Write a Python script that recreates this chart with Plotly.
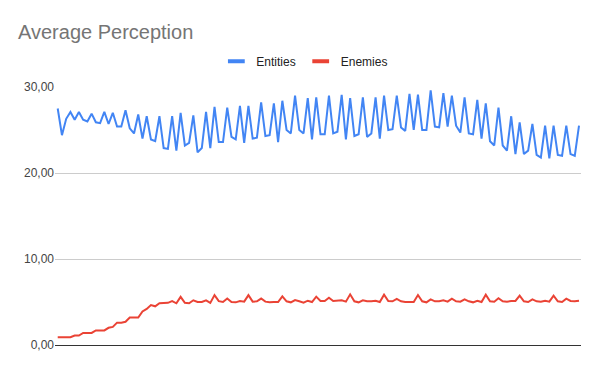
import plotly.graph_objects as go

entities = [
    27.5, 24.4, 26.3, 27.1, 26.2, 27.1, 26.2, 26.0, 26.9, 25.9,
    25.8, 27.1, 25.7, 27.0, 25.4, 25.4, 27.3, 25.2, 24.6, 26.8,
    24.0, 26.6, 23.9, 23.7, 26.6, 22.9, 22.8, 26.6, 22.6, 27.0,
    23.2, 23.5, 26.7, 22.4, 22.9, 27.1, 22.9, 27.7, 23.6, 23.6,
    27.6, 24.2, 23.9, 27.8, 23.5, 27.8, 24.0, 24.1, 28.2, 24.3,
    24.4, 28.1, 23.6, 28.4, 25.0, 24.6, 29.0, 25.0, 24.6, 28.7,
    23.9, 28.8, 24.5, 24.5, 29.0, 24.6, 24.8, 29.1, 23.9, 28.7,
    24.3, 24.5, 28.8, 24.2, 24.6, 28.8, 24.0, 29.0, 25.0, 25.1,
    29.0, 25.3, 24.9, 29.2, 25.0, 29.1, 25.0, 25.0, 29.6, 25.4,
    25.3, 29.3, 25.4, 29.0, 25.5, 24.7, 28.8, 24.6, 24.5, 28.5,
    24.0, 28.1, 23.7, 23.2, 27.6, 23.2, 22.6, 26.6, 22.2, 25.9,
    22.2, 22.6, 25.7, 22.1, 21.8, 25.5, 21.7, 25.5, 22.1, 22.0,
    25.5, 22.2, 22.0, 25.5,
]

enemies = [
    0.90, 0.93, 0.90, 0.90, 1.10, 1.10, 1.40, 1.40, 1.40, 1.70,
    1.70, 1.70, 2.00, 2.10, 2.60, 2.60, 2.70, 3.20, 3.20, 3.20,
    3.90, 4.20, 4.65, 4.50, 4.85, 4.90, 4.90, 5.10, 4.85, 5.60,
    4.90, 4.85, 5.20, 5.00, 5.00, 5.20, 4.90, 5.80, 5.10, 5.00,
    5.40, 5.00, 4.96, 5.12, 5.04, 5.80, 5.04, 5.08, 5.40, 5.04,
    4.96, 5.00, 5.00, 5.66, 5.08, 4.96, 5.23, 5.08, 4.92, 5.15,
    5.00, 5.62, 5.12, 5.12, 5.50, 5.12, 5.12, 5.19, 5.04, 5.89,
    5.08, 4.96, 5.19, 5.08, 5.08, 5.15, 5.00, 5.85, 5.12, 5.08,
    5.35, 5.08, 5.00, 5.00, 5.00, 5.81, 5.08, 4.96, 5.31, 5.08,
    5.08, 5.19, 5.04, 5.39, 5.08, 5.04, 5.31, 5.08, 4.96, 5.15,
    5.00, 5.85, 5.08, 5.04, 5.43, 5.08, 5.04, 5.12, 5.12, 5.74,
    5.08, 5.00, 5.31, 5.08, 5.04, 5.15, 5.04, 5.74, 5.08, 5.00,
    5.39, 5.12, 5.08, 5.15,
]

x = list(range(len(entities)))
series_names = ["Entities", "Enemies"]
colors = ["#4285F4", "#EA4335"]
y_ticks = [0, 10, 20, 30]

fig = go.Figure()
for name, vals, c in zip(series_names, [entities, enemies], colors):
    fig.add_trace(go.Scatter(x=x, y=vals, mode="lines", name=name,
                             line=dict(color=c, width=2), showlegend=False,
                             hoverinfo="skip"))
    fig.add_trace(go.Scatter(x=[None], y=[None], mode="markers", name=name,
                             marker=dict(symbol="line-ew", size=12, color=c,
                                         line=dict(color=c, width=4))))

fig.update_layout(
    width=600, height=371,
    margin=dict(l=55, r=19, t=87, b=26),
    paper_bgcolor="white", plot_bgcolor="white",
    separators=",.",
    font=dict(family="Liberation Sans, Arial, sans-serif", size=12, color="#222222"),
    title=dict(text="Average Perception", x=18 / 600, xref="container", xanchor="left",
               y=0.915, yref="container", yanchor="middle",
               font=dict(size=20, color="#757575")),
    legend=dict(orientation="h", x=0.475, xanchor="center", y=1.10, yanchor="middle",
                font=dict(size=12, color="#222222"), itemwidth=30,
                bgcolor="rgba(0,0,0,0)"),
    xaxis=dict(range=[-0.64, len(entities) - 1 + 0.47], showgrid=False,
               showticklabels=False, zeroline=False, showline=False, ticks=""),
    yaxis=dict(range=[0, 30], tickvals=y_ticks, tickformat=".2f",
               showgrid=True, gridcolor="#cccccc", gridwidth=1,
               zeroline=True, zerolinecolor="#333333", zerolinewidth=1,
               tickfont=dict(size=12, color="#444444"), ticks="",
               showline=False),
)

fig.write_html("out.html", config={"displayModeBar": False},
               post_script="document.body.style.margin='0';document.body.style.overflow='hidden';")
